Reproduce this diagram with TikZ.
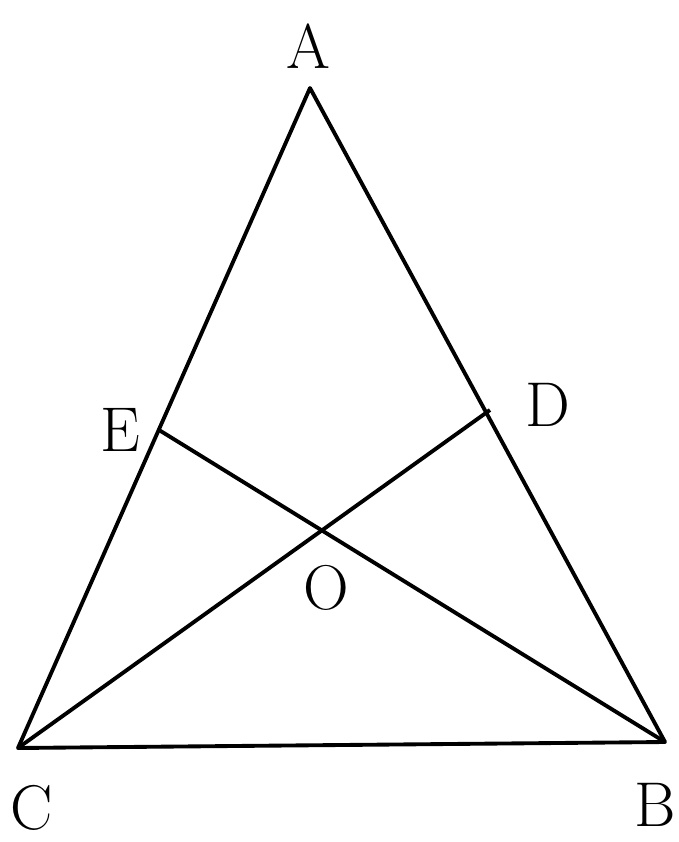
\documentclass[tikz,border=0pt]{standalone}
\usepackage{fontspec}
\tikzset{
  nhan/.style={font=\fontsize{36}{40}\selectfont, inner sep=0pt}
}
\begin{document}
\begin{tikzpicture}[x=0.02cm, y=-0.02cm, line width=2.2pt, line join=round]
				\useasboundingbox (0,0) rectangle (679,842);
				% Các đỉnh tam giác
				\coordinate (A) at (310,88);
				\coordinate (B) at (665,742);
				\coordinate (C) at (18,748);
				\coordinate (D) at (490,410);
				\coordinate (E) at (159,430);
				
				% Vẽ tam giác ABC
				\draw (A) -- (B) -- (C) -- cycle;
				% Vẽ hai đoạn CD và BE
				\draw (C) -- (D);
				\draw (B) -- (E);
				
				% Ghi tên các điểm
				\node[nhan] (lA) at (308,46) {A};
				\node[nhan] (lB) at (655,805) {B};
				\node[nhan] (lC) at (32,808) {C};
				\node[nhan] (lD) at (548,405) {D};
				\node[nhan] (lE) at (120,430) {E};
				\node[nhan] (lO) at (326,588) {O};
			\end{tikzpicture}
\end{document}
